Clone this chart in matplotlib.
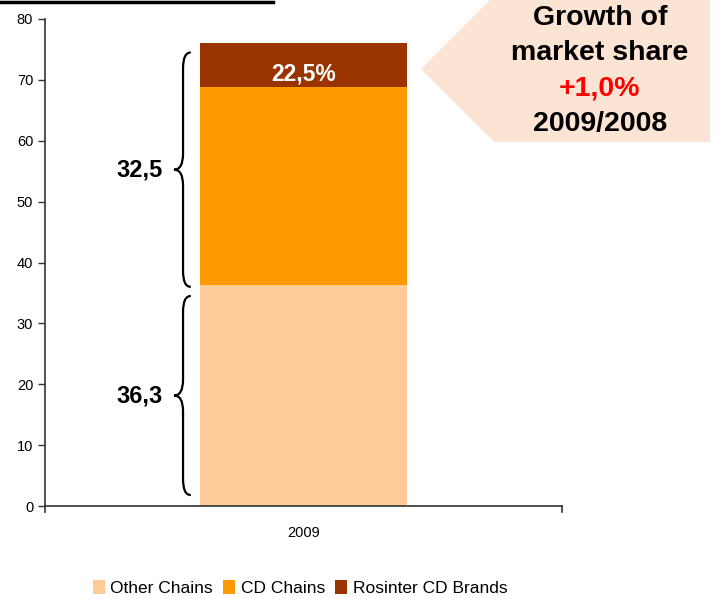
import matplotlib
matplotlib.use("Agg")
import matplotlib.pyplot as plt
from matplotlib.path import Path
from matplotlib.patches import PathPatch, Polygon, Patch
import matplotlib.transforms as mtransforms

# ----------------------------
# Data
# ----------------------------
years = ["2009"]
other_chains = [36.3]
cd_chains = [32.5]
rosinter = [7.3]
series_names = ["Other Chains", "CD Chains", "Rosinter CD Brands"]
colors = ["#FFCC99", "#FF9900", "#993300"]
brace_labels = ["36,3", "32,5"]
rosinter_share = "22,5%"
callout_lines = ["Growth of", "market share", "+1,0%", "2009/2008"]

W, H = 722, 599
fig = plt.figure(figsize=(W / 100, H / 100), dpi=100)
plt.rcParams["font.family"] = ["Liberation Sans", "DejaVu Sans"]
narrow = ["Liberation Sans Narrow", "Liberation Sans", "DejaVu Sans"]

ax = fig.add_axes([45 / W, 1 - 506 / H, (562 - 45) / W, (506 - 19) / H])

# stacked bar
x = [0]
bottom = [0.0]
for vals, name, c in zip([other_chains, cd_chains, rosinter], series_names, colors):
    ax.bar(x, vals, width=1.0, bottom=bottom, color=c, label=name, zorder=2)
    bottom = [b + v for b, v in zip(bottom, vals)]
bar_top = bottom[0]

ax.set_xlim(-1.25, 1.25)
ax.set_ylim(0, 80)
ax.set_yticks(range(0, 81, 10))
ax.set_xticks([])
ax.spines["top"].set_visible(False)
ax.spines["right"].set_visible(False)
for s in ["left", "bottom"]:
    ax.spines[s].set_color("#333333")
    ax.spines[s].set_linewidth(1.2)
ax.tick_params(axis="y", length=5, width=1.0, color="#333333", labelsize=10.5)
for lbl in ax.get_yticklabels():
    lbl.set_family(narrow)

# category label + end ticks on x axis
ax.text(0.5, -0.055, years[0], transform=ax.transAxes, ha="center", va="center",
        fontsize=10.5, family=narrow)
for xe in [0, 1]:
    ax.plot([xe, xe], [0, -0.012], transform=ax.transAxes, color="#333333",
            lw=1.2, clip_on=False)

# label inside the Rosinter segment (sits a bit below the middle)
top_cd = other_chains[0] + cd_chains[0]
ax.text(0, top_cd + rosinter[0] * 0.3, rosinter_share, ha="center", va="center",
        color="white", fontsize=16.5, fontweight="bold", zorder=3)

# curly braces
trans = mtransforms.blended_transform_factory(ax.transAxes, ax.transData)


def brace(y0, y1, xe=0.282, xm=0.267, xt=0.2495, d=2.6):
    ym = (y0 + y1) / 2
    verts = [(xe, y0), (xm, y0), (xm, y0 + d), (xm, ym - d), (xm, ym), (xt, ym),
             (xm, ym), (xm, ym + d), (xm, y1 - d), (xm, y1), (xe, y1)]
    codes = [Path.MOVETO, Path.CURVE3, Path.CURVE3, Path.LINETO, Path.CURVE3,
             Path.CURVE3, Path.CURVE3, Path.CURVE3, Path.LINETO, Path.CURVE3,
             Path.CURVE3]
    ax.add_patch(PathPatch(Path(verts, codes), transform=trans, fill=False,
                           lw=1.6, color="black", clip_on=False))
    return ym


ym1 = brace(1.8, other_chains[0] - 1.8)
ym2 = brace(other_chains[0] - 0.3, bar_top - 1.6)
ax.text(0.228, ym1, brace_labels[0], transform=trans, ha="right", va="center",
        fontsize=17, fontweight="bold")
ax.text(0.228, ym2, brace_labels[1], transform=trans, ha="right", va="center",
        fontsize=17, fontweight="bold")

# callout arrow shape (figure pixel coords)
pts = [(421, 69), (495, -5), (710, -5), (710, 142), (494, 142)]
fig.patches.append(Polygon([(px / W, 1 - py / H) for px, py in pts], closed=True,
                           transform=fig.transFigure, facecolor="#FCE4D4",
                           edgecolor="none", zorder=0))
ys = [18, 53, 89, 124]
for line, py in zip(callout_lines, ys):
    fig.text(600 / W, 1 - py / H, line, ha="center", va="center", fontsize=20.5,
             fontweight="bold", color="#FF0000" if line.startswith("+") else "black")

# black rule at top-left
fig.add_artist(plt.Line2D([0, 273 / W], [1 - 1.5 / H, 1 - 1.5 / H], color="black",
                          lw=2.5, transform=fig.transFigure))

# legend
handles = [Patch(facecolor=c, label=n) for c, n in zip(colors, series_names)]
fig.legend(handles=handles, loc="center", bbox_to_anchor=(300 / W, 1 - 588 / H),
           ncol=3, frameon=False, prop={"family": narrow, "size": 12.5},
           handlelength=0.7, handleheight=0.9, handletextpad=0.3, columnspacing=0.6)

fig.savefig("out.png", dpi=100)
